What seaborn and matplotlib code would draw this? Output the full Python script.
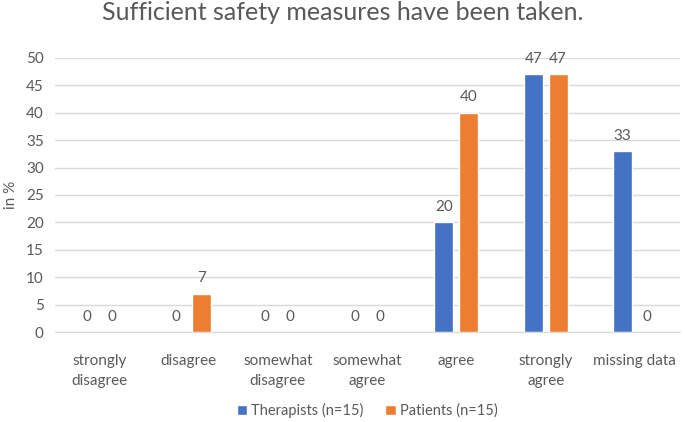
import pandas as pd
import numpy as np
import matplotlib
matplotlib.use("Agg")
import matplotlib.pyplot as plt
import seaborn as sns

categories = ["strongly\ndisagree", "disagree", "somewhat\ndisagree", "somewhat\nagree",
              "agree", "strongly\nagree", "missing data"]
therapists = [0, 0, 0, 0, 20, 47, 33]
patients = [0, 7, 0, 0, 40, 47, 0]
groups = ["Therapists (n=15)", "Patients (n=15)"]

df = pd.DataFrame({
    "category": categories * 2,
    "value": therapists + patients,
    "group": [groups[0]] * len(categories) + [groups[1]] * len(categories),
})

sns.set_style("white")
plt.rcParams['font.family'] = ['Lato', 'DejaVu Sans']
text_col = "#595959"

fig = plt.figure(figsize=(6.85, 4.22), dpi=100)
ax = fig.add_axes([0.08, 0.213, 0.912, 0.65])

sns.barplot(data=df, x="category", y="value", hue="group", order=categories,
            hue_order=groups, palette=["#4472C4", "#ED7D31"], width=0.56, gap=0.24,
            ax=ax, saturation=1)

for cont in ax.containers:
    ax.bar_label(cont, fmt="%d", padding=6, fontsize=11, color=text_col)

ax.set_ylim(0, 50)
ax.set_yticks(range(0, 51, 5))
ax.yaxis.grid(True, color="#D9D9D9", linewidth=1)
ax.set_axisbelow(True)
for s in ["top", "right", "left"]:
    ax.spines[s].set_visible(False)
ax.spines["bottom"].set_color("#D9D9D9")
ax.tick_params(axis="both", length=0, labelsize=11, colors=text_col, pad=8)
ax.tick_params(axis="x", pad=16)
for lab in ax.get_xticklabels():
    lab.set_linespacing(1.55)
ax.set_xlabel("")
ax.set_ylabel("in %", fontsize=11, color=text_col, labelpad=6)

fig.suptitle("Sufficient safety measures have been taken.", fontsize=18,
             color=text_col, y=0.998)

ax.legend(loc="lower center", bbox_to_anchor=(0.5, -0.36), ncol=2, frameon=False,
          fontsize=10.5, handlelength=0.7, handleheight=0.7, columnspacing=1.5,
          handletextpad=0.3, labelcolor=text_col)

fig.savefig("out.png", dpi=100)
